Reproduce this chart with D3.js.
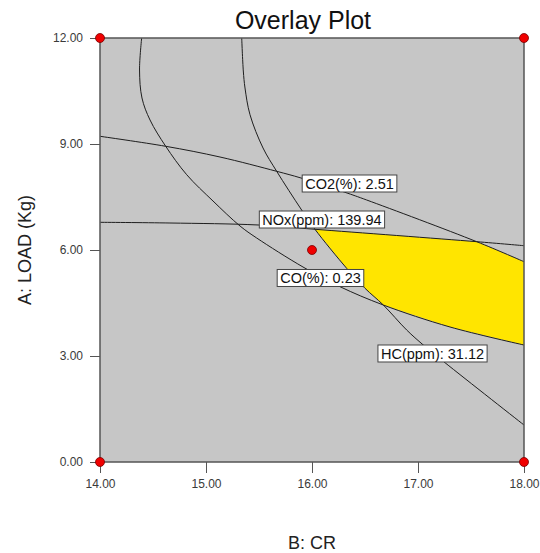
<!DOCTYPE html>
<html>
<head>
<meta charset="utf-8">
<script src="https://cdn.jsdelivr.net/npm/d3@7"></script>
<style>
  body { margin: 0; background: #fff; }
  svg { font-family: "Liberation Sans", Arial, sans-serif; }
  .axis text { font-size: 12px; fill: #3a3a3a; }
  .axis line, .axis path { stroke: #555; }
</style>
</head>
<body>
<div id="chart"></div>
<script>
// axis ticks
const crTicks = [14, 15, 16, 17, 18];
const loadTicks = [0, 3, 6, 9, 12];

// design points [CR, LOAD]
const designPoints = [[14, 0], [14, 12], [18, 0], [18, 12], [16, 6]];

// contour lines, [CR, LOAD]
const coContour = [[14.393, 12.0], [14.373, 11.094], [14.396, 10.302], [14.472, 9.679],
  [14.620, 8.935], [14.818, 8.131], [15.066, 7.387], [15.321, 6.679], [15.478, 6.340], [15.915, 5.519],
  [16.264, 4.962], [16.673, 4.443], [17.302, 3.821], [18.0, 3.311]];
const hcContour = [[15.337, 12.0], [15.352, 11.066], [15.368, 10.585], [15.415, 9.830], [15.538, 8.887],
  [15.667, 8.227], [15.896, 7.160], [16.028, 6.586], [16.327, 5.482], [16.500, 4.916], [16.673, 4.443],
  [16.893, 3.736], [17.050, 3.311], [17.255, 2.810], [18.0, 1.047]];
const co2Contour = [[14.0, 9.218], [14.620, 8.935], [15.132, 8.632], [15.667, 8.227], [15.896, 8.038],
  [16.311, 7.633], [16.516, 7.415], [17.554, 6.235], [18.0, 5.669]];
const noxContour = [[14.0, 6.784], [14.660, 6.764], [15.491, 6.708], [16.028, 6.586], [17.554, 6.235], [18.0, 6.122]];

// where the boundaries of the sweet spot cross (CR)
const hcNoxCross = 16.028, noxCo2Cross = 17.554, coHcCross = 16.673;

// flag labels: text and anchor [CR, LOAD]
const contourLabels = [
  {text: "CO2(%): 2.51", at: [16.354, 7.882]},
  {text: "NOx(ppm): 139.94", at: [16.094, 6.863]},
  {text: "CO(%): 0.23", at: [16.080, 5.208]},
  {text: "HC(ppm): 31.12", at: [17.137, 3.071]}
];

const margin = {top: 38, right: 16, bottom: 91, left: 100};
const containerWidth = 540, containerHeight = 553;
const width = containerWidth - margin.left - margin.right;   // 424
const height = containerHeight - margin.top - margin.bottom; // 424

const svg = d3.select('#chart').append('svg')
  .attr('width', containerWidth)
  .attr('height', containerHeight);

const chart = svg.append('g')
  .attr('transform', `translate(${margin.left},${margin.top})`);

const xScale = d3.scaleLinear().domain([14, 18]).range([0, width]);
const yScale = d3.scaleLinear().domain([0, 12]).range([height, 0]);

svg.append('defs').append('clipPath').attr('id', 'plotClip')
  .append('rect').attr('width', width).attr('height', height);

// plot background
chart.append('rect')
  .attr('width', width)
  .attr('height', height)
  .attr('fill', '#c6c6c6');

// feasible region (yellow)
const region = [
  ...noxContour.filter(d => d[0] >= hcNoxCross && d[0] <= noxCo2Cross),
  ...co2Contour.filter(d => d[0] >= noxCo2Cross),
  ...coContour.filter(d => d[0] >= coHcCross).reverse(),
  ...hcContour.filter(d => d[0] >= hcNoxCross && d[0] <= coHcCross).reverse()
];

const plotG = chart.append('g').attr('clip-path', 'url(#plotClip)');

plotG.append('path')
  .datum(region)
  .attr('fill', '#ffe500')
  .attr('stroke', 'none')
  .attr('d', d3.line().x(d => xScale(d[0])).y(d => yScale(d[1])).curve(d3.curveLinearClosed));

const contourLine = d3.line()
  .x(d => xScale(d[0]))
  .y(d => yScale(d[1]))
  .curve(d3.curveCatmullRom.alpha(0.5));

plotG.selectAll('.contour')
  .data([coContour, hcContour, co2Contour, noxContour])
  .join('path')
  .attr('class', 'contour')
  .attr('fill', 'none')
  .attr('stroke', '#1e1e1e')
  .attr('stroke-width', 1)
  .attr('d', contourLine);

// frame
chart.append('rect')
  .attr('width', width)
  .attr('height', height)
  .attr('fill', 'none')
  .attr('stroke', '#555')
  .attr('stroke-width', 1.5);

// axes
const xAxis = d3.axisBottom(xScale).tickValues(crTicks).tickFormat(d3.format('.2f')).tickSize(11).tickPadding(6);
const yAxis = d3.axisLeft(yScale).tickValues(loadTicks).tickFormat(d3.format('.2f')).tickSize(10).tickPadding(7);

chart.append('g')
  .attr('class', 'axis x-axis')
  .attr('transform', `translate(0,${height})`)
  .call(xAxis)
  .call(g => g.select('.domain').remove());

chart.append('g')
  .attr('class', 'axis y-axis')
  .call(yAxis)
  .call(g => g.select('.domain').remove());

// contour flags
const flags = chart.selectAll('.flag')
  .data(contourLabels)
  .join('g')
  .attr('class', 'flag')
  .attr('transform', d => `translate(${xScale(d.at[0])},${yScale(d.at[1])})`);

flags.append('rect');
flags.append('text')
  .attr('text-anchor', 'middle')
  .attr('dy', '0.36em')
  .attr('font-size', '14.5px')
  .attr('fill', '#111')
  .text(d => d.text);

flags.each(function() {
  const g = d3.select(this);
  const bb = g.select('text').node().getBBox();
  g.select('rect')
    .attr('x', bb.x - 3)
    .attr('y', -8.5)
    .attr('width', bb.width + 6)
    .attr('height', 17)
    .attr('fill', '#fff')
    .attr('stroke', '#444')
    .attr('stroke-width', 1);
});

// design points
chart.selectAll('.point')
  .data(designPoints)
  .join('circle')
  .attr('class', 'point')
  .attr('cx', d => xScale(d[0]))
  .attr('cy', d => yScale(d[1]))
  .attr('r', 4.5)
  .attr('fill', '#f00000')
  .attr('stroke', '#700')
  .attr('stroke-width', 0.8);

// titles
svg.append('text')
  .attr('x', margin.left + width / 2 - 9)
  .attr('y', 29)
  .attr('text-anchor', 'middle')
  .attr('font-size', '25px')
  .attr('fill', '#111')
  .text('Overlay Plot');

svg.append('text')
  .attr('x', margin.left + width / 2)
  .attr('y', 549)
  .attr('text-anchor', 'middle')
  .attr('font-size', '18px')
  .attr('fill', '#222')
  .text('B: CR');

svg.append('text')
  .attr('transform', `translate(31,${margin.top + height / 2}) rotate(-90)`)
  .attr('text-anchor', 'middle')
  .attr('font-size', '18px')
  .attr('fill', '#222')
  .text('A: LOAD (Kg)');
</script>
</body>
</html>
